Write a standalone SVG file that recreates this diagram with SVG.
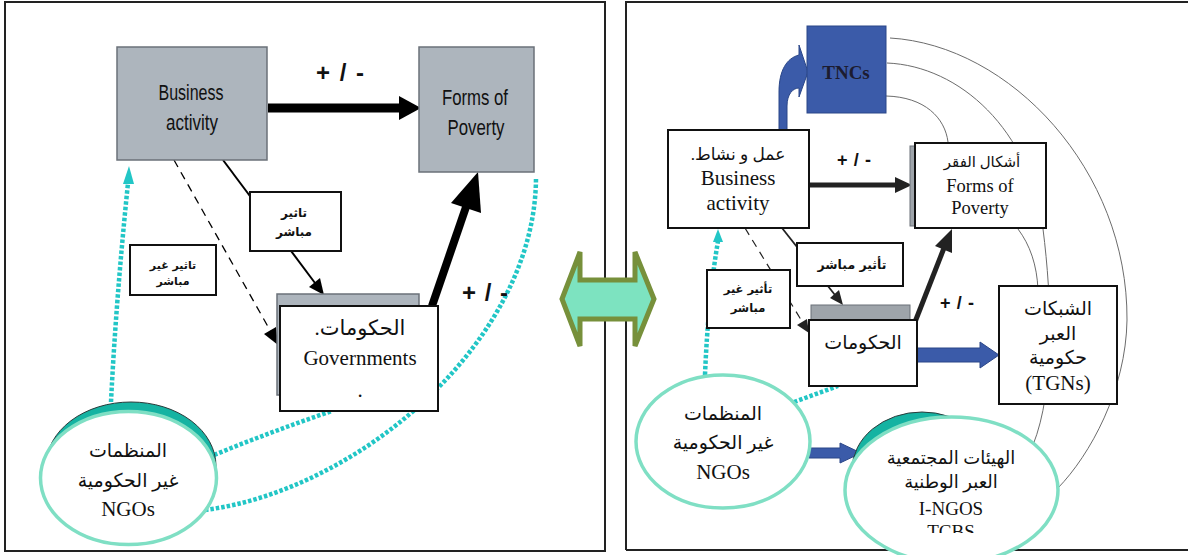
<svg xmlns="http://www.w3.org/2000/svg" width="1188" height="555" viewBox="0 0 1188 555">
<style>
.gbox{fill:#adb5bd;stroke:#6b7179;stroke-width:1.5}
.wbox{fill:#fff;stroke:#111;stroke-width:2}
.strip{fill:#9ea4aa;stroke:#6b7179;stroke-width:1}
.blue{fill:#3b5ba9;stroke:#2b4788;stroke-width:1}
.dot{fill:none;stroke:#22c6c6;stroke-width:4.5;stroke-dasharray:3.5 2}
.ell{fill:#fff;stroke:#7fdfc4;stroke-width:3.5}
.shadow{fill:#15b3a2;stroke:#2b3b3b;stroke-width:1}
.arc{fill:none;stroke:#6c6c6c;stroke-width:1}
.border{fill:none;stroke:#222;stroke-width:2}
text{text-anchor:middle;dominant-baseline:central;fill:#111}
.sans{font-family:"Liberation Sans",Arial,sans-serif}
.serif{font-family:"Liberation Serif","DejaVu Sans",serif}
.arb{font-family:"DejaVu Sans","Liberation Sans",sans-serif;font-weight:bold}
.pm{font-family:"Liberation Sans",Arial,sans-serif;font-weight:bold}
</style>
<defs>
<clipPath id="clipT"><rect x="840" y="400" width="230" height="133"/></clipPath>
</defs>
<rect width="1188" height="555" fill="#fff"/>

<!-- panel borders -->
<g id="panels">
<rect class="border" x="5" y="2" width="600" height="549"/>
<path class="border" d="M626,550 L626,2 L1188,2 M626,550 L1188,550"/>
</g>

<!-- connectors -->
<g id="connectors">
<!-- left panel -->
<line x1="268" y1="108" x2="400" y2="108" stroke="#000" stroke-width="9"/>
<polygon points="399,96 421,108 399,120" fill="#000"/>
<line x1="432" y1="306" x2="466" y2="207" stroke="#000" stroke-width="8"/>
<polygon points="478,172 481,213 451,203" fill="#000"/>
<line x1="223" y1="160" x2="315" y2="283" stroke="#000" stroke-width="2"/>
<polygon points="324,295 320,278 309,287" fill="#000"/>
<line x1="174" y1="160" x2="271" y2="332" stroke="#000" stroke-width="1.3" stroke-dasharray="8 6"/>
<polygon points="278,345 276,327 264,334" fill="#000"/>
<path class="dot" d="M111,402 Q116,300 128,183"/>
<polygon points="129,166 134,184 123,184" fill="#22c6c6"/>
<path class="dot" d="M209,457 Q270,432 332,411"/>
<path class="dot" d="M205,510 C360,490 536,340 536,177"/>
<!-- right panel -->
<path class="arc" d="M890,38 C1010,45 1128,170 1127,320 C1126,390 1090,455 1058,488"/>
<path class="arc" d="M887,63 C960,66 1030,130 1043,229 C1052,300 1055,390 1033,445"/>
<path class="arc" d="M886,96 C925,97 945,118 948,142"/>
<path class="arc" d="M1018,229 C1030,245 1037,265 1038,290"/>
<path class="blue" d="M779,130 L779,92 C779,70 787,58 799,55 L799,45 L808,72 L799,97 L799,88 C793,88 787,94 787,106 L787,130 Z"/>
<line x1="809" y1="185" x2="896" y2="185" stroke="#222" stroke-width="5"/>
<polygon points="895,177 912,185 895,193" fill="#222"/>
<line x1="915" y1="322" x2="944" y2="248" stroke="#222" stroke-width="5"/>
<polygon points="952,229 952,253 935,246" fill="#222"/>
<line x1="782" y1="228" x2="835" y2="295" stroke="#222" stroke-width="1.8"/>
<polygon points="843,305 839,290 830,298" fill="#222"/>
<line x1="745" y1="228" x2="803" y2="323" stroke="#222" stroke-width="1.2" stroke-dasharray="8 6"/>
<polygon points="809,333 807,319 797,325" fill="#222"/>
<path class="dot" d="M705,375 Q708,300 718,241"/>
<polygon points="718,229 723,242 713,242" fill="#22c6c6"/>
<path class="dot" d="M794,402 L838,386"/>
<polygon class="blue" points="917,348 980,348 980,342 999,355 980,368 980,362 917,362"/>
<polygon class="blue" points="809,448 840,448 840,443 861,453 840,463 840,458 809,458"/>
</g>

<!-- left panel nodes -->
<g id="L-business">
<rect class="gbox" x="117" y="47" width="150" height="113"/>
<text class="sans" x="191" y="92" font-size="22" textLength="65" lengthAdjust="spacingAndGlyphs">Business</text>
<text class="sans" x="192" y="122" font-size="22" textLength="52" lengthAdjust="spacingAndGlyphs">activity</text>
</g>
<g id="L-forms">
<rect class="gbox" x="419" y="47" width="115" height="125"/>
<text class="sans" x="475" y="97" font-size="22" textLength="66" lengthAdjust="spacingAndGlyphs">Forms of</text>
<text class="sans" x="476" y="127" font-size="22" textLength="57" lengthAdjust="spacingAndGlyphs">Poverty</text>
</g>
<g id="L-pm1"><text class="pm" x="340" y="72" font-size="24" textLength="48" lengthAdjust="spacing">+ / -</text></g>
<g id="L-pm2"><text class="pm" x="485" y="292" font-size="24" textLength="46" lengthAdjust="spacing">+ / -</text></g>
<g id="L-direct">
<rect class="wbox" x="250" y="192" width="91" height="59" stroke-width="1.5"/>
<text class="arb" x="294" y="213" font-size="12">تاثير</text>
<text class="arb" x="294" y="232" font-size="12">مباشر</text>
</g>
<g id="L-indirect">
<rect class="wbox" x="130" y="245" width="86" height="50" stroke-width="1.5"/>
<text class="arb" x="173" y="265" font-size="11">تاثير غير</text>
<text class="arb" x="173" y="281" font-size="11">مباشر</text>
</g>
<g id="L-gov">
<rect class="gbox" x="277" y="294" width="142" height="101"/>
<rect class="wbox" x="280" y="306" width="158" height="105"/>
<text class="serif" x="360" y="328" font-size="21" direction="rtl">الحكومات.</text>
<text class="serif" x="360" y="358" font-size="21">Governments</text>
<text class="serif" x="360" y="390" font-size="21">.</text>
</g>
<g id="L-ngo">
<ellipse class="shadow" cx="131" cy="466" rx="85" ry="64"/>
<ellipse class="ell" cx="128.5" cy="478" rx="88" ry="66.5"/>
<text class="serif" x="128" y="450" font-size="19">المنظمات</text>
<text class="serif" x="128" y="480" font-size="19">غير الحكومية</text>
<text class="serif" x="128" y="509" font-size="21">NGOs</text>
</g>

<!-- right panel nodes -->
<g id="R-tncs">
<rect class="blue" x="807" y="26" width="79" height="87"/>
<text class="serif" x="846" y="72" font-size="19" font-weight="bold" style="fill:#1c1c30">TNCs</text>
</g>
<g id="R-business">
<rect class="wbox" x="668" y="130" width="141" height="98"/>
<text class="serif" x="738" y="154" font-size="17" direction="rtl">عمل و نشاط.</text>
<text class="serif" x="738" y="178" font-size="21">Business</text>
<text class="serif" x="738" y="203" font-size="21">activity</text>
</g>
<g id="R-forms">
<rect class="strip" x="910" y="146" width="6" height="80"/>
<rect class="wbox" x="915" y="143" width="131" height="85"/>
<text class="serif" x="982" y="162" font-size="15">أشكال  الفقر</text>
<text class="serif" x="980" y="186" font-size="18.5">Forms of</text>
<text class="serif" x="980" y="208" font-size="18.5">Poverty</text>
</g>
<g id="R-pm1"><text class="pm" x="854" y="160" font-size="18" textLength="34" lengthAdjust="spacing">+ / -</text></g>
<g id="R-pm2"><text class="pm" x="957" y="303" font-size="18" textLength="34" lengthAdjust="spacing">+ / -</text></g>
<g id="R-direct">
<rect class="wbox" x="797" y="243" width="106" height="43" stroke-width="1.5"/>
<text class="arb" x="852" y="264" font-size="12.5">تأثير مباشر</text>
</g>
<g id="R-indirect">
<rect class="wbox" x="707" y="270" width="83" height="58" stroke-width="1.5"/>
<text class="arb" x="748" y="289" font-size="11.5">تأثير غير</text>
<text class="arb" x="748" y="308" font-size="11.5">مباشر</text>
</g>
<g id="R-gov">
<rect class="strip" x="811" y="305" width="99" height="15"/>
<rect class="wbox" x="809" y="320" width="108" height="66"/>
<text class="serif" x="863" y="342" font-size="19">الحكومات</text>
</g>
<g id="R-tgns">
<rect class="wbox" x="999" y="286" width="118" height="118"/>
<text class="serif" x="1058" y="308" font-size="19">الشبكات</text>
<text class="serif" x="1058" y="333" font-size="19">العبر</text>
<text class="serif" x="1058" y="357" font-size="19">حكومية</text>
<text class="serif" x="1058" y="383" font-size="21">(TGNs)</text>
</g>
<g id="R-ngo">
<ellipse class="ell" cx="723" cy="441.5" rx="87" ry="66.5"/>
<text class="serif" x="723" y="413" font-size="19">المنظمات</text>
<text class="serif" x="723" y="442" font-size="19">غير الحكومية</text>
<text class="serif" x="723" y="472" font-size="21">NGOs</text>
</g>
<g id="R-ingos">
<ellipse class="shadow" cx="922" cy="470" rx="70" ry="58"/>
<ellipse class="ell" cx="951.5" cy="490" rx="106.5" ry="73"/>
<text class="serif" x="951" y="458" font-size="18">الهيئات المجتمعية</text>
<text class="serif" x="951" y="482" font-size="18">العبر الوطنية</text>
<text class="serif" x="951" y="508" font-size="19">I-NGOS</text>
<text class="serif" x="951" y="531" font-size="19" clip-path="url(#clipT)">TCBS</text>
</g>

<!-- double arrow -->
<g id="double-arrow">
<polygon points="562,299 580,252 580,280 635,280 635,252 654,299 635,346 635,319 580,319 580,346" fill="#7de3c0" stroke="#77903b" stroke-width="5" stroke-linejoin="miter"/>
</g>
</svg>
